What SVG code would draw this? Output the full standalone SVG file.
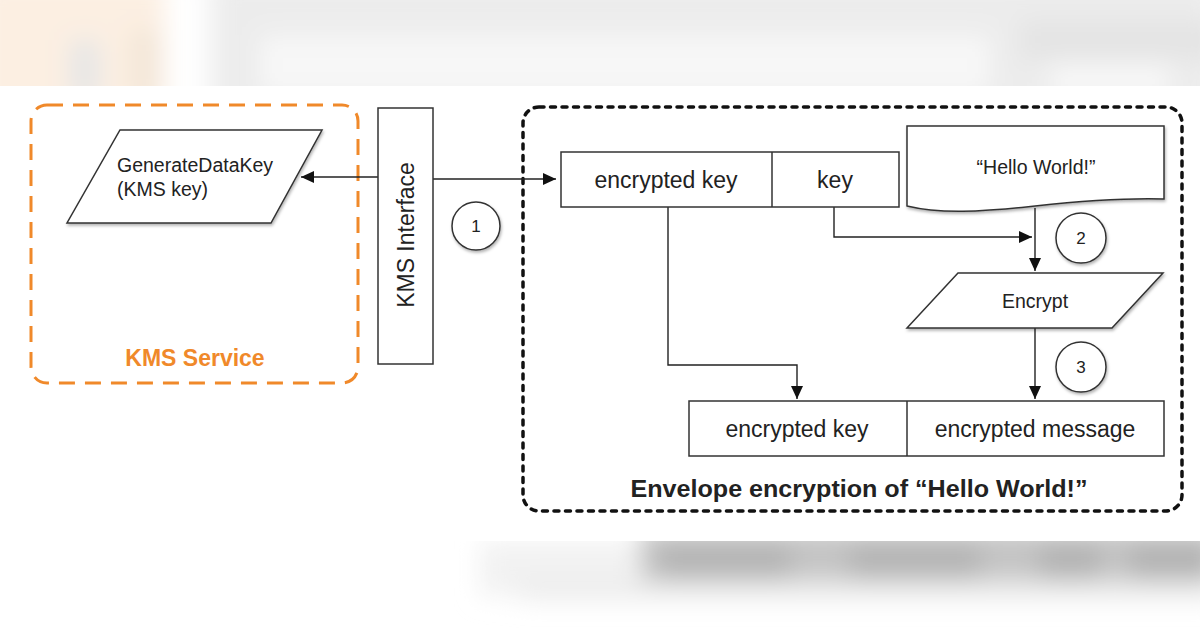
<svg xmlns="http://www.w3.org/2000/svg" width="1200" height="628" viewBox="0 0 1200 628">
  <defs>
    <style>
      .txt { font-family: "Liberation Sans", Arial, sans-serif; fill: #222; }
      .shape { fill: #fff; stroke: #333; stroke-width: 1.5; }
      .conn { fill: none; stroke: #222; stroke-width: 1.4; }
    </style>
    <marker id="arr" markerUnits="userSpaceOnUse" markerWidth="14" markerHeight="12" refX="13" refY="6" orient="auto">
      <path d="M0,0 L13,6 L0,12 z" fill="#111"/>
    </marker>
    <filter id="shadow" x="-10%" y="-10%" width="130%" height="140%">
      <feDropShadow dx="1" dy="2" stdDeviation="1.5" flood-color="#000" flood-opacity="0.3"/>
    </filter>
    <filter id="blur" x="-20%" y="-50%" width="140%" height="200%">
      <feGaussianBlur stdDeviation="12"/>
    </filter>
    <clipPath id="topclip"><rect x="0" y="0" width="1200" height="86"/></clipPath>
    <clipPath id="botclip"><rect x="0" y="541" width="1200" height="87"/></clipPath>
  </defs>

  <rect x="0" y="0" width="1200" height="628" fill="#fff"/>

  <!-- blurred background bands -->
  <g id="bg-top" clip-path="url(#topclip)">
    <rect x="0" y="0" width="1200" height="86" fill="#f6f6f6"/>
    <g filter="url(#blur)">
      <rect x="-20" y="-20" width="190" height="140" fill="#fcefe2"/>
      <rect x="165" y="-20" width="40" height="140" fill="#ffffff"/>
      <rect x="70" y="40" width="30" height="60" fill="#e6e6e6"/>
      <rect x="130" y="30" width="30" height="70" fill="#f3e6d8"/>
      <rect x="215" y="-20" width="1000" height="140" fill="#ececec"/>
      <rect x="260" y="35" width="730" height="60" fill="#f7f7f7"/>
      <rect x="1020" y="20" width="200" height="40" fill="#e4e4e4"/>
      <rect x="1050" y="65" width="120" height="30" fill="#f8f8f8"/>
    </g>
  </g>
  <g id="bg-bottom" clip-path="url(#botclip)">
    <g filter="url(#blur)">
      <rect x="480" y="541" width="160" height="55" fill="#f2f2f2"/>
      <rect x="640" y="530" width="580" height="60" fill="#c4c4c4"/>
      <rect x="660" y="545" width="130" height="35" fill="#b4b4b4"/>
      <rect x="850" y="545" width="130" height="35" fill="#b4b4b4"/>
      <rect x="1040" y="545" width="60" height="35" fill="#b2b2b2"/>
      <rect x="1130" y="545" width="80" height="35" fill="#b2b2b2"/>
      <rect x="520" y="580" width="700" height="20" fill="#ececec"/>
    </g>
  </g>

  <!-- containers -->
  <g id="kms-service">
    <rect x="31" y="105" width="327" height="278" rx="16" ry="16" fill="none" stroke="#f0892a" stroke-width="3" stroke-dasharray="16 10"/>
    <text x="195" y="366" text-anchor="middle" font-family="Liberation Sans, Arial, sans-serif" font-weight="bold" font-size="23" fill="#f0892a">KMS Service</text>
  </g>
  <g id="envelope">
    <rect x="523" y="107" width="659" height="404" rx="16" ry="16" fill="none" stroke="#111" stroke-width="3.5" stroke-dasharray="5 6.5" stroke-linecap="round"/>
    <text x="859" y="497" text-anchor="middle" class="txt" font-weight="bold" font-size="23" textLength="457" lengthAdjust="spacingAndGlyphs">Envelope encryption of “Hello World!”</text>
  </g>

  <!-- connectors -->
  <g id="connectors">
    <path class="conn" d="M378,177 L301,177" marker-end="url(#arr)"/>
    <path class="conn" d="M433,179 L556,179" marker-end="url(#arr)"/>
    <path class="conn" d="M668,207 L668,365 L797,365 L797,399" marker-end="url(#arr)"/>
    <path class="conn" d="M834,207 L834,237 L1032,237" marker-end="url(#arr)"/>
    <path class="conn" d="M1035,208 L1035,271" marker-end="url(#arr)"/>
    <path class="conn" d="M1035,328 L1035,399" marker-end="url(#arr)"/>
  </g>

  <!-- nodes -->
  <g id="generate-data-key">
    <polygon class="shape" points="120,130 322,130 271,223 67,223" filter="url(#shadow)"/>
    <text x="117" y="172" class="txt" font-size="19.5">GenerateDataKey</text>
    <text x="117" y="196" class="txt" font-size="19.5">(KMS key)</text>
  </g>

  <g id="kms-interface">
    <rect class="shape" x="378" y="108" width="55" height="256"/>
    <text transform="translate(414,235) rotate(-90)" text-anchor="middle" class="txt" font-size="23">KMS Interface</text>
  </g>

  <g id="step1">
    <circle class="shape" cx="476" cy="226" r="24" filter="url(#shadow)"/>
    <text x="476" y="232" text-anchor="middle" class="txt" font-size="17">1</text>
  </g>

  <g id="data-key">
    <rect class="shape" x="561" y="152" width="338" height="55"/>
    <line x1="772" y1="152" x2="772" y2="207" stroke="#333" stroke-width="1.5"/>
    <text x="666" y="188" text-anchor="middle" class="txt" font-size="23">encrypted key</text>
    <text x="835" y="188" text-anchor="middle" class="txt" font-size="23">key</text>
  </g>

  <g id="hello-world">
    <path class="shape" d="M907,126 L1164,126 L1164,199 C1130,198 1090,200 1035,206 C980,212 940,214 907,206 Z" filter="url(#shadow)"/>
    <text x="1036" y="174" text-anchor="middle" class="txt" font-size="19.5">“Hello World!”</text>
  </g>

  <g id="step2">
    <circle class="shape" cx="1081" cy="238" r="25" filter="url(#shadow)"/>
    <text x="1081" y="244" text-anchor="middle" class="txt" font-size="17">2</text>
  </g>

  <g id="encrypt">
    <polygon class="shape" points="958,273 1163,273 1112,328 907,328" filter="url(#shadow)"/>
    <text x="1035" y="308" text-anchor="middle" class="txt" font-size="19.5">Encrypt</text>
  </g>

  <g id="step3">
    <circle class="shape" cx="1081" cy="367" r="25" filter="url(#shadow)"/>
    <text x="1081" y="373" text-anchor="middle" class="txt" font-size="17">3</text>
  </g>

  <g id="envelope-output">
    <rect class="shape" x="689" y="401" width="475" height="55"/>
    <line x1="907" y1="401" x2="907" y2="456" stroke="#333" stroke-width="1.5"/>
    <text x="797" y="437" text-anchor="middle" class="txt" font-size="23">encrypted key</text>
    <text x="1035" y="437" text-anchor="middle" class="txt" font-size="23">encrypted message</text>
  </g>
</svg>
